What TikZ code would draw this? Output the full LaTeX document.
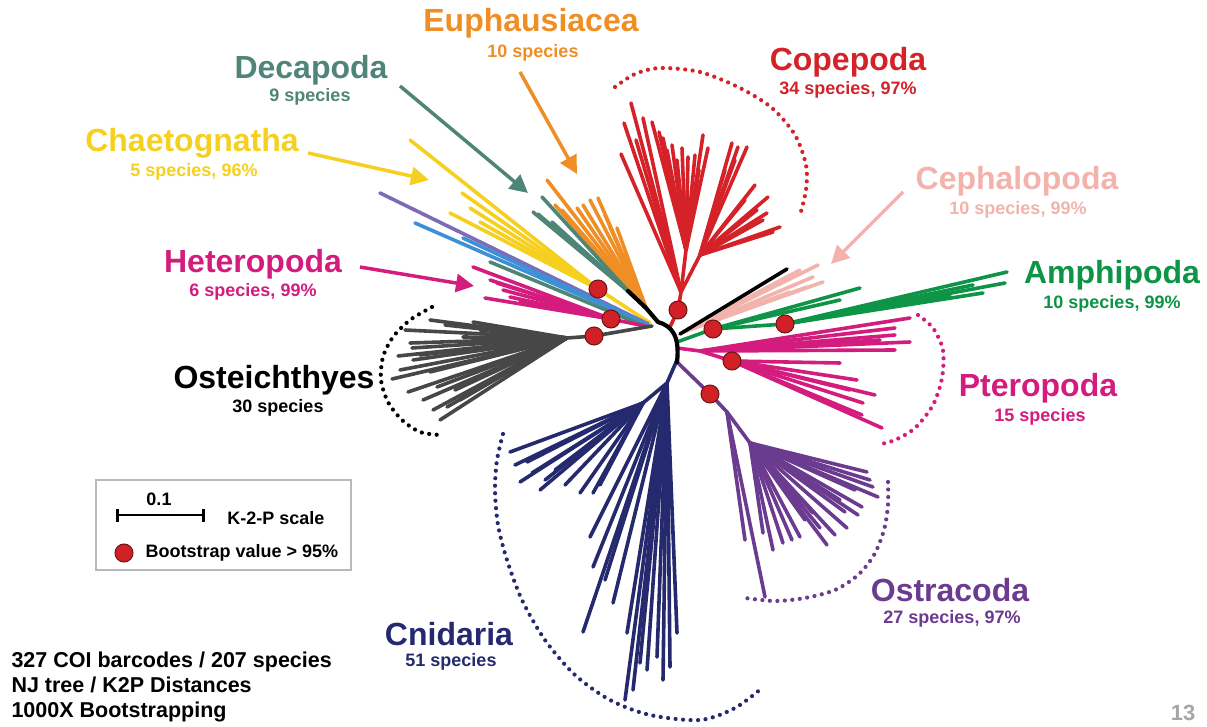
\documentclass[tikz,border=0pt]{standalone}
\usepackage{fontspec}
\setmainfont{Liberation Sans}
\usetikzlibrary{arrows.meta}

\definecolor{copred}{HTML}{D52228}
\definecolor{euorange}{HTML}{EE8E25}
\definecolor{decteal}{HTML}{4F8577}
\definecolor{chyellow}{HTML}{F5D01E}
\definecolor{ceppink}{HTML}{F2B3AD}
\definecolor{amgreen}{HTML}{0E9446}
\definecolor{magenta}{HTML}{D31C7D}
\definecolor{osgray}{HTML}{474747}
\definecolor{cnnavy}{HTML}{252A6F}
\definecolor{otpurple}{HTML}{6A3B8F}
\definecolor{lavender}{HTML}{7D6BB7}
\definecolor{skyblue}{HTML}{3D8FD6}
\definecolor{bootred}{HTML}{D22027}
\definecolor{bootedge}{HTML}{6A1414}

\tikzset{
  br/.style={line width=3.6pt, line cap=round},
  dotarc/.style={line width=4.2pt, line cap=round, dash pattern=on 0pt off 7.5pt},
  boot/.style={circle, fill=bootred, draw=bootedge, line width=1pt, minimum size=18pt, inner sep=0pt},
  grp/.style={font=\fontsize{32}{34}\selectfont\bfseries},
  cnt/.style={font=\fontsize{18}{20}\selectfont\bfseries},
  lead/.style={line width=3.5pt, -{Triangle[length=18pt,width=18pt]}},
}

\begin{document}
\begin{tikzpicture}[x=1pt,y=-1pt]
\useasboundingbox (0,0) rectangle (1207,727);

% Define coordinates
\coordinate (hub) at (658,322); % Left end of the central arc
\coordinate (dcB) at (628,291); % Base of Decapoda
\coordinate (euB) at (646,308); % Base of Euphausiacea
\coordinate (yeB) at (598,289); % Chaetognatha node
\coordinate (htN) at (611,319); % Heteropoda node
\coordinate (osN) at (594,336); % Osteichthyes node
\coordinate (osB) at (567,338);
\coordinate (cpN) at (678,310); % Copepoda node
\coordinate (cpB) at (681,292);
\coordinate (cpM) at (686,250);
\coordinate (cpR) at (700,255);
\coordinate (cphB) at (683,332); % Cephalopoda base
\coordinate (amN) at (713,329); % Amphipoda nodes
\coordinate (amM) at (785,324);
\coordinate (ptB) at (700,351); % Pteropoda base
\coordinate (ptN) at (732,361);
\coordinate (otN) at (710,394); % Ostracoda nodes
\coordinate (otB) at (727,412);
\coordinate (otF) at (750,443);
\coordinate (cnN) at (667,383); % Cnidaria nodes
\coordinate (cnU) at (643,403);

% Draw Copepoda
\draw[br, copred] (670,327) -- (cpN) -- (cpB) -- (cpM);
\draw[br, copred] (cpB) -- (cpR);
\foreach \x/\y in {621/154, 624/123, 631/103, 643/118, 636/140}
  \draw[br, copred] (cpB) -- (\x,\y);
\foreach \x/\y in {652/122, 659/132, 663/138, 672/145, 682/148, 688/157, 695/155, 703/135, 708/148, 677/160, 667/150, 699/170}
  \draw[br, copred] (cpM) -- (\x,\y);
\foreach \x/\y in {732/143, 738/147, 747/147, 725/170, 755/185, 768/197, 767/213, 763/220, 773/232, 780/227, 745/200, 735/160, 757/210}
  \draw[br, copred] (cpR) -- (\x,\y);

% Draw Euphausiacea and Decapoda
\foreach \x/\y in {547/180, 555/205, 562/210, 577/208, 583/205, 590/200, 598/198, 605/215, 610/227, 617/228}
  \draw[br, euorange] (euB) -- (\x,\y);
\foreach \x/\y in {542/197, 533/212, 538/214, 552/222}
  \draw[br, decteal] (dcB) -- (\x,\y);

% Draw Chaetognatha and single lines
\draw[br, chyellow] (650,323) -- (yeB);
\foreach \x/\y in {410/140, 462/193, 450/213, 470/208, 480/222}
  \draw[br, chyellow] (yeB) -- (\x,\y);
\draw[br, lavender] (648,324) -- (380,193);
\draw[br, skyblue] (646,324) -- (415,223);
\draw[br, skyblue] (646,324) -- (463,238);
\draw[br, decteal] (642,325) -- (490,262);

% Draw Heteropoda
\draw[br, magenta] (645,326) -- (htN);
\foreach \x/\y in {473/267, 497/283, 485/298, 510/297, 503/290, 520/301, 490/280}
  \draw[br, magenta] (htN) -- (\x,\y);

% Draw Osteichthyes
\draw[br, osgray] (652,326) -- (osN) -- (osB);
\foreach \x/\y in {430/320, 473/322, 410/343, 413/360, 392/379, 423/400, 440/420, 447/407, 437/387, 412/348, 463/337, 400/370, 420/355, 455/390, 405/330, 445/325, 398/356, 430/372, 408/392, 433/410, 460/400, 470/350, 480/330}
  \draw[br, osgray] (osB) -- (\x,\y);

% Draw Cephalopoda
\foreach \x/\y in {800/270, 813/277, 818/265, 823/282, 807/287, 790/292}
  \draw[br, ceppink] (cphB) -- (\x,\y);
\draw[br, black] (680,334) -- (787,269);

% Draw Amphipoda
\draw[br, amgreen] (677,342) -- (amN) -- (amM);
\foreach \x/\y in {860/288, 840/300}
  \draw[br, amgreen] (amN) -- (\x,\y);
\foreach \x/\y in {973/285, 983/293, 1005/283, 1007/272, 950/295}
  \draw[br, amgreen] (amM) -- (\x,\y);

% Draw Pteropoda
\draw[br, magenta] (677,348) -- (ptB) -- (ptN);
\foreach \x/\y in {910/318, 895/328, 895/335, 910/342, 895/350, 880/340}
  \draw[br, magenta] (ptB) -- (\x,\y);
\foreach \x/\y in {840/363, 857/380, 875/395, 863/403, 862/415, 882/428, 850/390}
  \draw[br, magenta] (ptN) -- (\x,\y);

% Draw Ostracoda
\draw[br, otpurple] (677,362) -- (otN) -- (otB) -- (otF);
\draw[br, otpurple] (otB) -- (745,540);
\draw[br, otpurple] (otB) -- (765,597);
\foreach \x/\y in {867/472, 873/487, 878/497, 862/507, 847/528, 827/545, 800/537, 783/543, 773/550, 763/533, 813/513, 840/500, 855/490, 870/480, 858/515, 835/535, 792/540, 820/528, 805/520, 845/512}
  \draw[br, otpurple] (otF) -- (\x,\y);

% Draw Cnidaria
\draw[br, cnnavy] (677,360) -- (cnN) -- (cnU);
\foreach \x/\y in {510/452, 520/482, 540/490, 580/493, 593/493, 532/473, 555/470, 527/462, 515/465, 545/480, 565/485, 600/485}
  \draw[br, cnnavy] (cnU) -- (\x,\y);
\foreach \x/\y in {590/537, 593/567, 583/632, 613/603, 627/633, 625/700, 633/690, 647/670, 663/680, 670/667, 657/657, 677/633, 640/663, 605/580}
  \draw[br, cnnavy] (cnN) -- (\x,\y);

% Central arc
\draw[br, black, line width=4.2pt] (dcB) -- (euB) -- (hub) .. controls (672,326) and (680,336) .. (677,362);

% Bootstrap values
\foreach \c in {yeB, htN, osN, cpN, amN, amM, ptN, otN}
  \node[boot] at (\c) {};

% Dotted brackets
\draw[dotarc, copred] plot[smooth] coordinates {(615,87) (635,74) (660,68) (700,72) (740,88) (772,108) (795,135) (806,165) (806,190) (800,215)};
\draw[dotarc, magenta] plot[smooth] coordinates {(918,315) (933,328) (943,350) (942,378) (933,405) (915,428) (895,440) (877,445)};
\draw[dotarc, black] plot[smooth] coordinates {(432,307) (410,320) (393,337) (383,357) (381,380) (388,402) (402,420) (420,432) (440,435)};
\draw[dotarc, cnnavy] plot[smooth] coordinates {(503,434) (497,460) (495,490) (498,525) (507,560) (522,600) (545,640) (575,675) (610,700) (650,715) (700,720) (735,708) (762,688)};
\draw[dotarc, otpurple] plot[smooth] coordinates {(888,482) (888,505) (884,530) (874,555) (858,575) (835,590) (805,598) (775,601) (745,598)};

% Group labels
\node[grp, text=euorange] (euLab) at (531,23) {Euphausiacea};
\node[cnt, text=euorange] (euCnt) at (533,53) {10 species};
\node[grp, text=decteal] (dcLab) at (311,70) {Decapoda};
\node[cnt, text=decteal] (dcCnt) at (310,97) {9 species};
\node[grp, text=copred] (cpLab) at (848,62) {Copepoda};
\node[cnt, text=copred] (cpCnt) at (848,90) {34 species, 97\%};
\node[grp, text=chyellow] (chLab) at (192,143) {Chaetognatha};
\node[cnt, text=chyellow] (chCnt) at (194,172) {5 species, 96\%};
\node[grp, text=ceppink] (cphLab) at (1017,181) {Cephalopoda};
\node[cnt, text=ceppink] (cphCnt) at (1018,210) {10 species, 99\%};
\node[grp, text=amgreen] (amLab) at (1112,275) {Amphipoda};
\node[cnt, text=amgreen] (amCnt) at (1112,304) {10 species, 99\%};
\node[grp, text=magenta] (htLab) at (253,264) {Heteropoda};
\node[cnt, text=magenta] (htCnt) at (253,292) {6 species, 99\%};
\node[grp, text=black] (osLab) at (274,380) {Osteichthyes};
\node[cnt, text=black] (osCnt) at (278,408) {30 species};
\node[grp, text=magenta] (ptLab) at (1038,388) {Pteropoda};
\node[cnt, text=magenta] (ptCnt) at (1040,417) {15 species};
\node[grp, text=otpurple] (otLab) at (950,590) {Ostracoda};
\node[cnt, text=otpurple] (otCnt) at (952,619) {27 species, 97\%};
\node[grp, text=cnnavy] (cnLab) at (449,634) {Cnidaria};
\node[cnt, text=cnnavy] (cnCnt) at (451,662) {51 species};

% Label arrows
\coordinate (euTail) at (520,72);
\coordinate (euHead) at (577,174);
\coordinate (dcTail) at (400,86);
\coordinate (dcHead) at (528,193);
\coordinate (chTail) at (308,153);
\coordinate (chHead) at (429,180);
\coordinate (htTail) at (360,267);
\coordinate (htHead) at (474,286);
\coordinate (cphTail) at (903,192);
\coordinate (cphHead) at (831,264);
\draw[lead, euorange] (euTail) -- (euHead);
\draw[lead, decteal] (dcTail) -- (dcHead);
\draw[lead, chyellow] (chTail) -- (chHead);
\draw[lead, magenta] (htTail) -- (htHead);
\draw[lead, ceppink] (cphTail) -- (cphHead);

% Legend
\draw[gray!55, line width=1.3pt] (96,480) rectangle (351,570);
\coordinate (barL) at (116,515);
\coordinate (barR) at (205,515);
\draw[line width=2.6pt, {Bar[width=13pt]}-{Bar[width=13pt]}] (barL) -- (barR);
\node[cnt] (barNum) at (159,499) {0.1};
\node[cnt] (barTxt) at (276,518) {K-2-P scale};
\node[boot] (legDot) at (124,553) {};
\node[cnt, anchor=west] (legTxt) at (142,553) {Bootstrap value > 95\%};

% Notes
\node[anchor=west, align=left, font=\fontsize{21.5}{25}\selectfont\bfseries] (info) at (8,687) {327 COI barcodes / 207 species\\NJ tree / K2P Distances\\1000X Bootstrapping};
\node[font=\fontsize{22}{24}\selectfont\bfseries, text=gray!70] (page) at (1183,713) {13};

\end{tikzpicture}
\end{document}
